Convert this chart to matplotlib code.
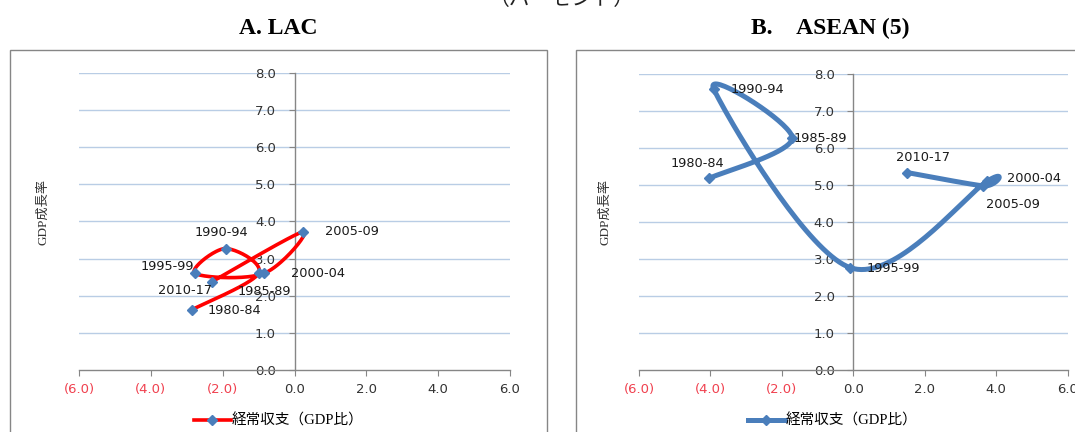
import numpy as np
import matplotlib.pyplot as plt
from matplotlib.patches import Rectangle
from matplotlib.lines import Line2D
from matplotlib.ticker import FuncFormatter

periods = ["1980-84", "1985-89", "1990-94", "1995-99", "2000-04", "2005-09", "2010-17"]

# current account (% of GDP) vs GDP growth (%)
lac_ca = [-2.86, -1.00, -1.92, -2.77, -0.85, 0.24, -2.29]
lac_gdp = [1.62, 2.60, 3.27, 2.60, 2.60, 3.72, 2.38]

asean_ca = [-4.05, -1.71, -3.91, -0.08, 3.75, 3.64, 1.51]
asean_gdp = [5.17, 6.26, 7.59, 2.76, 5.10, 4.97, 5.33]

x_ticks = [-6, -4, -2, 0, 2, 4, 6]
y_ticks = [0, 1, 2, 3, 4, 5, 6, 7, 8]

BLUE = "#4A7EBB"
RED = "#FF0000"
GRID = "#B9CDE5"
AXIS = "#868686"
NEG = "#F0414F"
TXT = "#333333"
JP_SERIF = ["Liberation Serif", "Noto Sans CJK JP"]


def smooth(xs, ys, n=40):
    # Catmull-Rom style bezier smoothing, like the spreadsheet "smoothed line"
    p = np.column_stack([xs, ys]).astype(float)
    p = np.vstack([p[0], p, p[-1]])
    out = []
    for i in range(1, len(p) - 2):
        p0, p1, p2, p3 = p[i - 1], p[i], p[i + 1], p[i + 2]
        c1 = p1 + (p2 - p0) / 6.0
        c2 = p2 - (p3 - p1) / 6.0
        t = np.linspace(0, 1, n)[:, None]
        seg = ((1 - t) ** 3) * p1 + 3 * ((1 - t) ** 2) * t * c1 + 3 * (1 - t) * t ** 2 * c2 + t ** 3 * p2
        out.append(seg if i == 1 else seg[1:])
    out = np.vstack(out)
    return out[:, 0], out[:, 1]


def tick_fmt(v, pos):
    if v < 0:
        return "(%.1f)" % abs(v)
    return "%.1f" % v


def setup_axes(ax):
    ax.set_xlim(-6, 6)
    ax.set_ylim(0, 8)
    ax.set_xticks(x_ticks)
    ax.set_yticks(y_ticks)
    ax.xaxis.set_major_formatter(FuncFormatter(tick_fmt))
    ax.yaxis.set_major_formatter(FuncFormatter(tick_fmt))
    ax.spines["left"].set_position(("data", 0))
    ax.spines["bottom"].set_position(("data", 0))
    ax.spines["top"].set_visible(False)
    ax.spines["right"].set_visible(False)
    for s in ["left", "bottom"]:
        ax.spines[s].set_color(AXIS)
        ax.spines[s].set_linewidth(1)
        ax.spines[s].set_zorder(1.5)
    ax.yaxis.grid(True, color=GRID, linewidth=1)
    ax.set_axisbelow(True)
    ax.tick_params(axis="y", direction="out", length=4, color=AXIS, pad=9.5,
                   labelsize=9.5, labelcolor=TXT)
    ax.tick_params(axis="x", direction="out", length=4, color=AXIS, pad=5,
                   labelsize=9.5, labelcolor=TXT)
    for lab, v in zip(ax.get_xticklabels(), x_ticks):
        if v < 0:
            lab.set_color(NEG)
    # hide the 0.0 gridline under the x axis
    ax.get_ygridlines()[0].set_visible(False)


def draw_series(ax, xs, ys, line_color, lw, offsets):
    sx, sy = smooth(xs, ys)
    ax.plot(sx, sy, color=line_color, linewidth=lw, solid_capstyle="round", zorder=3)
    ax.plot(xs, ys, linestyle="none", marker="D", markersize=5.5, color=BLUE, zorder=4)
    for name, x, y in zip(periods, xs, ys):
        dx, dy, ha = offsets[name]
        ax.annotate(name, (x, y), xytext=(dx, dy), textcoords="offset points",
                    ha=ha, va="center", fontsize=9.3, color="#1a1a1a", zorder=5)


lac_labels = {
    "1980-84": (11.2, -0.5, "left"),
    "1985-89": (4.3, -13, "center"),
    "1990-94": (-2.9, 11.5, "center"),
    "1995-99": (-0.4, 5, "right"),
    "2000-04": (19.2, -0.4, "left"),
    "2005-09": (15.8, 0, "left"),
    "2010-17": (0, -6.5, "right"),
}
asean_labels = {
    "1980-84": (-8, 10.8, "center"),
    "1985-89": (1.2, 0, "left"),
    "1990-94": (12, -0.7, "left"),
    "1995-99": (11.5, -0.5, "left"),
    "2000-04": (13.9, 1.7, "left"),
    "2005-09": (21, -13.7, "center"),
    "2010-17": (11.2, 10.8, "center"),
}

fig = plt.figure(figsize=(10.75, 4.32), dpi=100)
W, H = 1075.0, 432.0

# chart frames
fig.patches.append(Rectangle((10 / W, -0.2), 537 / W, 1.2 - 50 / H, transform=fig.transFigure,
                             fill=False, edgecolor=AXIS, linewidth=1))
fig.patches.append(Rectangle((576 / W, -0.2), 520 / W, 1.2 - 50 / H, transform=fig.transFigure,
                             fill=False, edgecolor=AXIS, linewidth=1))

ax1 = fig.add_axes([79 / W, 0.1435, 431 / W, 0.688])
ax2 = fig.add_axes([639 / W, 0.1435, 428.6 / W, 0.686])
for ax in (ax1, ax2):
    setup_axes(ax)

draw_series(ax1, lac_ca, lac_gdp, RED, 2.6, lac_labels)
draw_series(ax2, asean_ca, asean_gdp, BLUE, 3.6, asean_labels)

fig.text(0.522, 1 - 5 / H, "（パーセント）", ha="center", va="baseline", fontsize=15,
         family=["Noto Sans CJK JP"], color="#222222")
fig.text(278 / W, 1 - 28 / H, "A. LAC", ha="center", va="center", fontsize=17,
         fontweight="bold", family=JP_SERIF)
fig.text(830 / W, 1 - 28 / H, "B.\u3000ASEAN (5)", ha="center", va="center", fontsize=17,
         fontweight="bold", family=JP_SERIF)

for xpix in (43.5, 605):
    fig.text(xpix / W, 1 - 212 / H, "GDP成長率", rotation=90, ha="center", va="center",
             fontsize=9.5, family=JP_SERIF, color="#333333")

# legends
for cx, col, lw in ((279, RED, 2.6), (833, BLUE, 3.6)):
    h = Line2D([], [], color=col, linewidth=lw, marker="D", markersize=5.5,
               markerfacecolor=BLUE, markeredgecolor=BLUE)
    fig.legend([h], ["経常収支（GDP比）"], loc="center", bbox_to_anchor=(cx / W, 1 - 421 / H),
               frameon=False, handlelength=2.5, handletextpad=0.1,
               prop={"family": JP_SERIF, "size": 10.5})

fig.savefig("out.png", dpi=100)
